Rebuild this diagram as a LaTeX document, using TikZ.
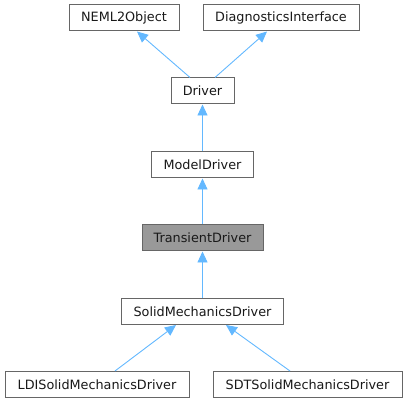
\documentclass[tikz,border=0pt]{standalone}
\usepackage{fontspec}
\setmainfont{DejaVu Sans}
\usetikzlibrary{arrows.meta}
\definecolor{edgeblue}{HTML}{63B8FF}
\definecolor{boxline}{HTML}{666666}
\definecolor{boxdark}{HTML}{999999}
\begin{document}
\begin{tikzpicture}[x=1pt,y=-1pt,
  box/.style={draw=boxline,fill=white,line width=1pt,minimum height=26pt,inner sep=0pt,
    font=\fontsize{12.8}{14}\selectfont,text=black!90},
  edge/.style={draw=edgeblue,line width=0.9pt,-{Triangle[length=11pt,width=10pt,fill=edgeblue]}}]
\useasboundingbox (0,0) rectangle (408,403);
\node[box,minimum width=110pt] (neml) at (124,18) {NEML2Object};
\node[box,minimum width=156pt] (diag) at (281,18) {DiagnosticsInterface};
\node[box,minimum width=63pt] (driver) at (202.5,91) {Driver};
\node[box,minimum width=102pt] (model) at (202.5,165) {ModelDriver};
\node[box,minimum width=121pt,fill=boxdark] (trans) at (202.5,238) {TransientDriver};
\node[box,minimum width=162pt] (solid) at (202.5,311.5) {SolidMechanicsDriver};
\node[box,minimum width=184pt] (ldi) at (97,384.5) {LDISolidMechanicsDriver};
\node[box,minimum width=189pt] (sdt) at (307.5,384.5) {SDTSolidMechanicsDriver};
\draw[edge] ([xshift=-12.5pt]driver.north) -- ([xshift=13pt]neml.south);
\draw[edge] ([xshift=12.5pt]driver.north) -- ([xshift=-14pt]diag.south);
\draw[edge] (model.north) -- (driver.south);
\draw[edge] (trans.north) -- (model.south);
\draw[edge] (solid.north) -- (trans.south);
\draw[edge] ([xshift=18pt]ldi.north) -- ([xshift=-26.5pt]solid.south);
\draw[edge] ([xshift=-17.5pt]sdt.north) -- ([xshift=23.5pt]solid.south);
\end{tikzpicture}
\end{document}
